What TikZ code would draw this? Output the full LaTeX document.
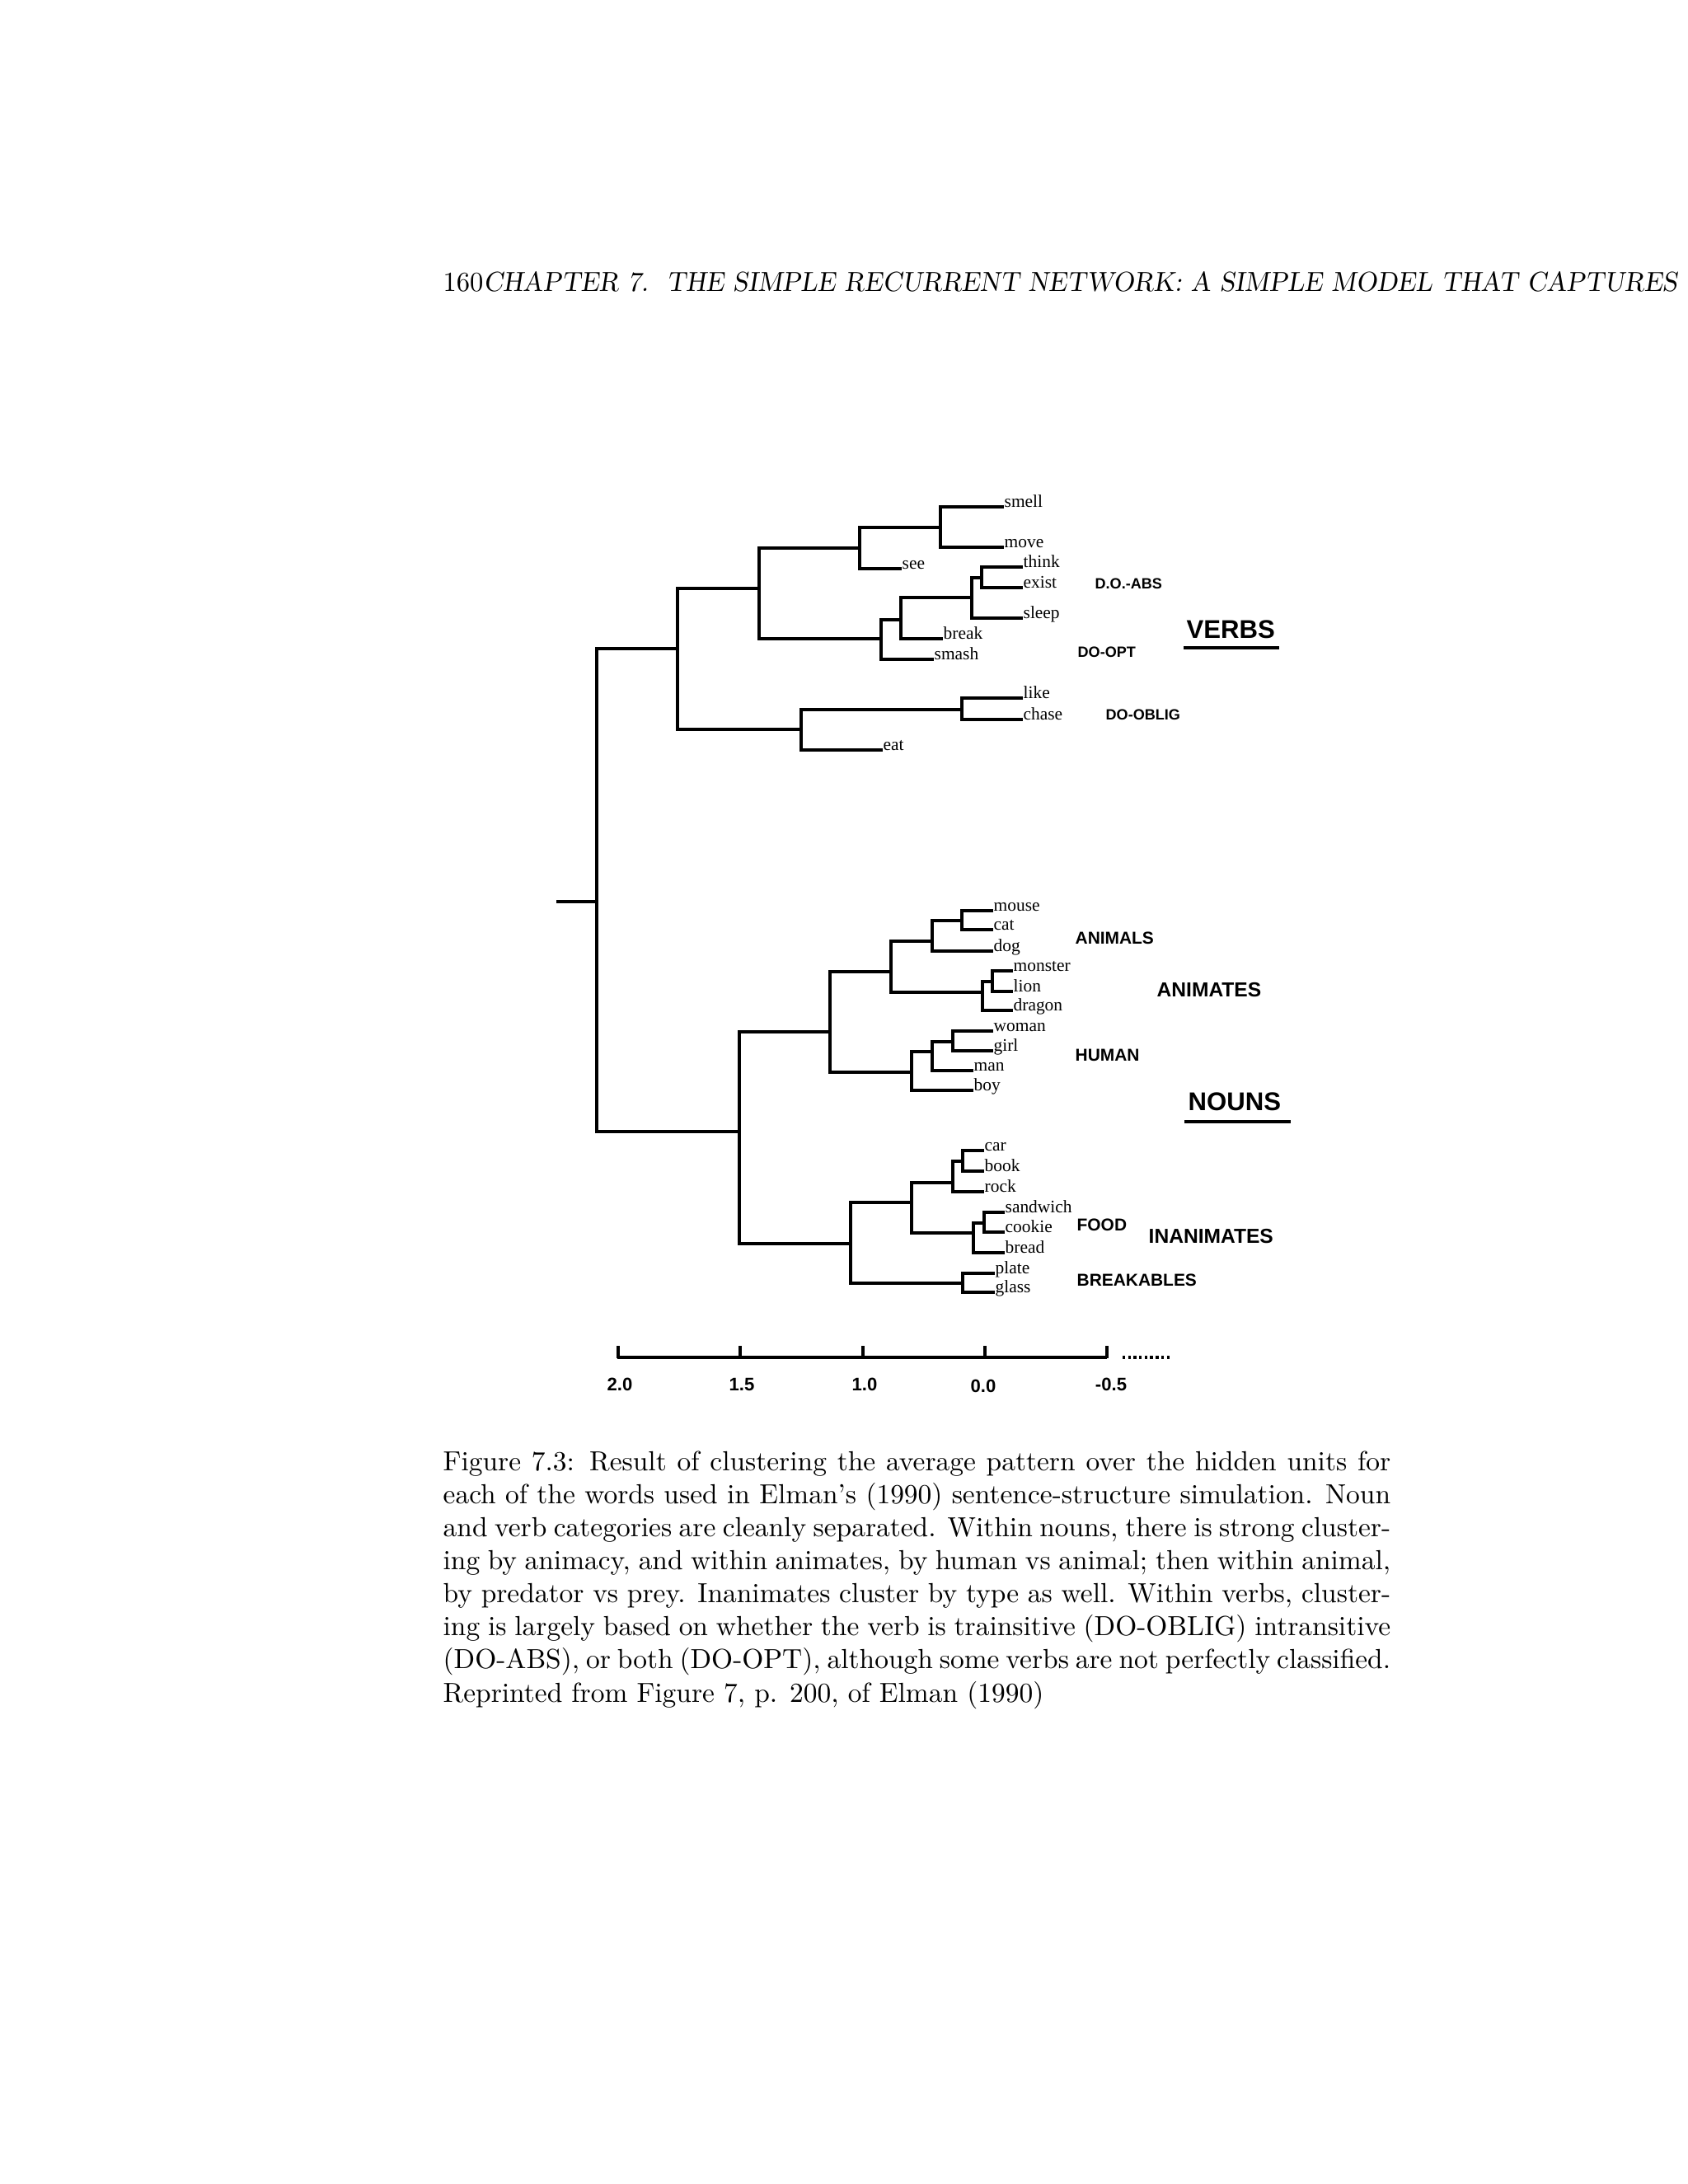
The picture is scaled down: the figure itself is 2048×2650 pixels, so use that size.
\documentclass[tikz,border=0pt]{standalone}
\usepackage{fontspec}
\newfontfamily\leaffont{Liberation Serif}
\newfontfamily\catfont{Liberation Sans}
\newfontfamily\headsl{lmromanslant10-regular.otf}
\newcommand\brk[3]{\draw[br] (#2) -- (#2 -| #1) -- (#3 -| #1) -- (#3);}
\tikzset{
  br/.style={line width=1.05pt, line join=miter},
  leaf/.style={anchor=base west, inner sep=0pt, font=\leaffont\fontsize{6.4}{7}\selectfont},
  vcat/.style={anchor=west, inner sep=0pt, font=\catfont\bfseries\fontsize{5.4}{6}\selectfont},
  ncat/.style={anchor=west, inner sep=0pt, font=\catfont\bfseries\fontsize{6.25}{7}\selectfont},
  mcat/.style={anchor=west, inner sep=0pt, font=\catfont\bfseries\fontsize{7.35}{8}\selectfont},
  bigcat/.style={anchor=west, inner sep=0pt, font=\catfont\bfseries\fontsize{9.3}{10}\selectfont},
  axisline/.style={line width=1.2pt},
  axl/.style={inner sep=0pt, font=\catfont\bfseries\fontsize{6.6}{7}\selectfont},
}
\begin{document}
\begin{tikzpicture}[x=0.298828pt, y=-0.298828pt]
\useasboundingbox (0,0) rectangle (2048,2650);
\fill[white] (0,0) rectangle (2048,2650);
\begin{scope}
\clip (0,0) rectangle (2048,2650);
% header
\node[anchor=base west, inner sep=0pt] (head) at (537,353)
  {\scalebox{0.973}[1]{160{\headsl CHAPTER 7.\ \ THE SIMPLE RECURRENT NETWORK: A SIMPLE MODEL THAT CAPTURES THE}}};

% internal join points
\coordinate (Rs) at (675,1094);
\coordinate (R) at (724,1094);
\coordinate (V) at (822,787);
\coordinate (N) at (897,1373);
\coordinate (V1) at (921,714);
\coordinate (V2) at (972,885);
\coordinate (S1) at (1043,665);
\coordinate (S2) at (1069,775);
\coordinate (SM) at (1141,640);
\coordinate (B1) at (1093,752);
\coordinate (T1) at (1179,725);
\coordinate (TE) at (1191,701);
\coordinate (LC) at (1167,861);
\coordinate (AN) at (1007,1252);
\coordinate (IN) at (1032,1509);
\coordinate (AL) at (1081,1179);
\coordinate (HU) at (1106,1301);
\coordinate (MCD) at (1131,1142);
\coordinate (MC) at (1167,1117);
\coordinate (MLD) at (1192,1204);
\coordinate (ML) at (1204,1191);
\coordinate (WGM) at (1131,1276);
\coordinate (WG) at (1156,1264);
\coordinate (CF) at (1106,1459);
\coordinate (BR) at (1168,1557);
\coordinate (CBR) at (1156,1435);
\coordinate (CB) at (1168,1409);
\coordinate (FO) at (1181,1496);
\coordinate (SC) at (1194,1484);

% leaves: verbs
\node[leaf] (l-smell) at (1218,615) {smell};
\node[leaf] (l-move) at (1218,664) {move};
\node[leaf] (l-see) at (1094,690) {see};
\node[leaf] (l-think) at (1241,688) {think};
\node[leaf] (l-exist) at (1241,713) {exist};
\node[leaf] (l-sleep) at (1241,750) {sleep};
\node[leaf] (l-break) at (1144,775) {break};
\node[leaf] (l-smash) at (1133,800) {smash};
\node[leaf] (l-like) at (1241,847) {like};
\node[leaf] (l-chase) at (1241,873) {chase};
\node[leaf] (l-eat) at (1071,910) {eat};
% leaves: nouns
\node[leaf] (l-mouse) at (1205,1105) {mouse};
\node[leaf] (l-cat) at (1205,1128) {cat};
\node[leaf] (l-dog) at (1205,1154) {dog};
\node[leaf] (l-monster) at (1229,1178) {monster};
\node[leaf] (l-lion) at (1229,1203) {lion};
\node[leaf] (l-dragon) at (1229,1226) {dragon};
\node[leaf] (l-woman) at (1205,1251) {woman};
\node[leaf] (l-girl) at (1205,1275) {girl};
\node[leaf] (l-man) at (1181,1299) {man};
\node[leaf] (l-boy) at (1181,1323) {boy};
\node[leaf] (l-car) at (1194,1396) {car};
\node[leaf] (l-book) at (1194,1421) {book};
\node[leaf] (l-rock) at (1194,1446) {rock};
\node[leaf] (l-sandwich) at (1219,1471) {sandwich};
\node[leaf] (l-cookie) at (1219,1495) {cookie};
\node[leaf] (l-bread) at (1219,1520) {bread};
\node[leaf] (l-plate) at (1207,1545) {plate};
\node[leaf] (l-glass) at (1207,1568) {glass};

% tree
\draw[br] (Rs) -- (R);
\brk{R}{V}{N}
\brk{V}{V1}{V2}
\brk{V1}{S1}{S2}
\brk{S1}{SM}{l-see.base west}
\brk{SM}{l-smell.base west}{l-move.base west}
\brk{S2}{B1}{l-smash.base west}
\brk{B1}{T1}{l-break.base west}
\brk{T1}{TE}{l-sleep.base west}
\brk{TE}{l-think.base west}{l-exist.base west}
\brk{V2}{LC}{l-eat.base west}
\brk{LC}{l-like.base west}{l-chase.base west}
\brk{N}{AN}{IN}
\brk{AN}{AL}{HU}
\brk{AL}{MCD}{MLD}
\brk{MCD}{MC}{l-dog.base west}
\brk{MC}{l-mouse.base west}{l-cat.base west}
\brk{MLD}{ML}{l-dragon.base west}
\brk{ML}{l-monster.base west}{l-lion.base west}
\brk{HU}{WGM}{l-boy.base west}
\brk{WGM}{WG}{l-man.base west}
\brk{WG}{l-woman.base west}{l-girl.base west}
\brk{IN}{CF}{BR}
\brk{CF}{CBR}{FO}
\brk{CBR}{CB}{l-rock.base west}
\brk{CB}{l-car.base west}{l-book.base west}
\brk{FO}{SC}{l-bread.base west}
\brk{SC}{l-sandwich.base west}{l-cookie.base west}
\brk{BR}{l-plate.base west}{l-glass.base west}

% category labels
\node[vcat] (doabs) at (1328,708) {D.O.-ABS};
\node[vcat] (doopt) at (1307,791) {DO-OPT};
\node[vcat] (dooblig) at (1341,867) {DO-OBLIG};
\node[bigcat] (verbs) at (1439,764) {VERBS};
\draw[line width=1.4pt] (1436,786) -- (1552,786);
\node[ncat] (animals) at (1304,1138) {ANIMALS};
\node[mcat] (animates) at (1403,1201) {ANIMATES};
\node[ncat] (human) at (1304,1280) {HUMAN};
\node[bigcat] (nouns) at (1441,1337) {NOUNS};
\draw[line width=1.4pt] (1437,1361) -- (1566,1361);
\node[ncat] (food) at (1306,1486) {FOOD};
\node[mcat] (inanimates) at (1393,1500) {INANIMATES};
\node[ncat] (breakables) at (1306,1553) {BREAKABLES};

% axis
\draw[axisline] (749,1647) -- (1343,1647);
\foreach \tx in {750,898,1047,1195,1343} \draw[axisline] (\tx,1648) -- (\tx,1633);
\draw[line width=1pt, densely dotted] (1362,1647) -- (1419,1647);
\node[axl] (a20) at (752,1680) {2.0};
\node[axl] (a15) at (900,1680) {1.5};
\node[axl] (a10) at (1049,1680) {1.0};
\node[axl] (a00) at (1193,1682) {0.0};
\node[axl] (a05) at (1348,1680) {-0.5};

% caption
\node[anchor=base west, inner sep=0pt] (caption) at (537,1784) {\parbox[t]{343.5pt}{%
Figure 7.3: Result of clustering the average pattern over the hidden units for\linebreak
each of the words used in Elman's (1990) sentence-structure simulation. Noun\linebreak
and verb categories are cleanly separated. Within nouns, there is strong cluster-\linebreak
ing by animacy, and within animates, by human vs animal; then within animal,\linebreak
by predator vs prey. Inanimates cluster by type as well. Within verbs, cluster-\linebreak
ing is largely based on whether the verb is trainsitive (DO-OBLIG) intransitive\linebreak
(DO-ABS), or both (DO-OPT), although some verbs are not perfectly classified.\linebreak
Reprinted from Figure 7, p. 200, of Elman (1990)}};
\end{scope}
\end{tikzpicture}
\end{document}
